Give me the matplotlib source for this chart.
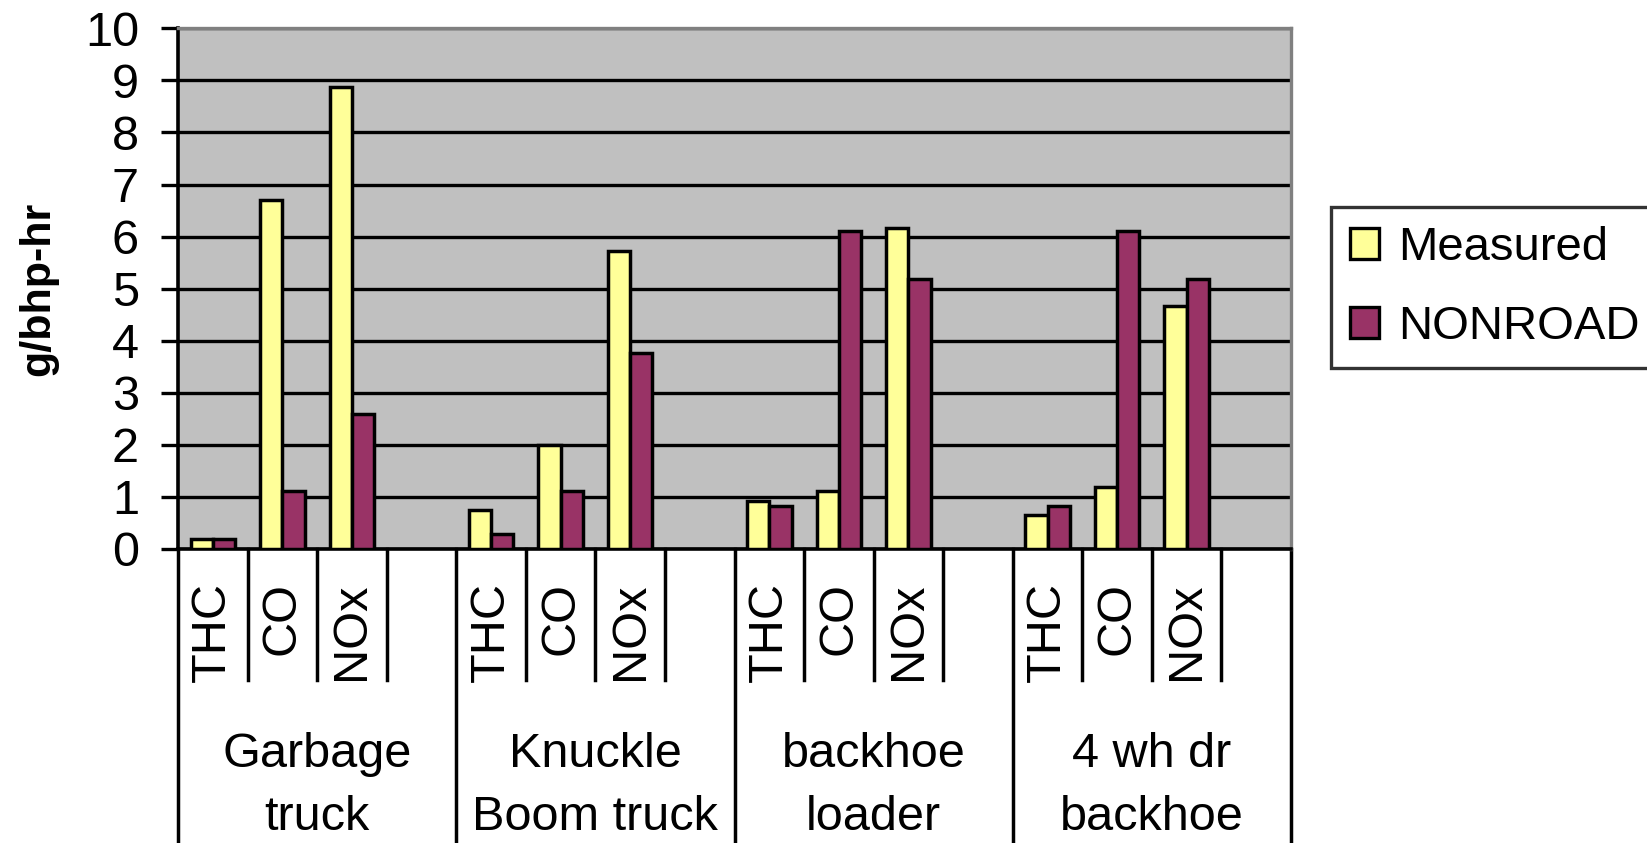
import matplotlib
matplotlib.use("Agg")
import matplotlib.pyplot as plt
import matplotlib.transforms as mtransforms
import numpy as np

plt.rcParams['font.family'] = ['Liberation Sans', 'DejaVu Sans']

groups = ["Garbage\ntruck", "Knuckle\nBoom truck", "backhoe\nloader", "4 wh dr\nbackhoe"]
pollutants = ["THC", "CO", "NOx"]
measured = [0.2, 6.7, 8.87, 0.74, 2.0, 5.72, 0.93, 1.11, 6.17, 0.66, 1.19, 4.66]
nonroad = [0.2, 1.11, 2.6, 0.29, 1.11, 3.76, 0.82, 6.1, 5.19, 0.82, 6.1, 5.19]
yticks = list(range(0, 11))

# each group has 3 pollutant slots plus one empty slot
slots = len(pollutants) + 1
xpos = [g * slots + p for g in range(len(groups)) for p in range(len(pollutants))]

fig = plt.figure(figsize=(16.47, 8.43), dpi=100)
ax = fig.add_axes([178 / 1647, 1 - 549 / 843, (1291 - 178) / 1647, (549 - 28.3) / 843])
ax.set_facecolor('#C0C0C0')

w = 0.32
x = np.array(xpos)
ax.bar(x - w / 2, measured, w, color='#FFFF99', edgecolor='black', linewidth=2.5, label='Measured', zorder=3)
ax.bar(x + w / 2, nonroad, w, color='#993366', edgecolor='black', linewidth=2.5, label='NONROAD', zorder=3)

ax.set_xlim(-0.5, len(groups) * slots - 0.5)
ax.set_ylim(0, 10)
ax.set_yticks(yticks)
ax.set_yticklabels([str(t) for t in yticks], fontsize=35)
ax.tick_params(axis='y', length=12, width=2.4, direction='out', pad=16, color='black')
ax.set_xticks([])
ax.yaxis.grid(True, color='black', linewidth=2.4, zorder=1)
ax.set_axisbelow(True)

ax.spines['left'].set_linewidth(2.6)
ax.spines['left'].set_color('black')
ax.spines['bottom'].set_linewidth(2.6)
ax.spines['bottom'].set_color('black')
ax.spines['top'].set_color('#808080')
ax.spines['top'].set_linewidth(2.4)
ax.spines['right'].set_color('#808080')
ax.spines['right'].set_linewidth(2.4)

ax.set_ylabel('g/bhp-hr', fontsize=31, fontweight='bold')
ax.yaxis.set_label_coords((58 - 178) / 1113, 0.5)

# category axis drawn below the plot
trans = mtransforms.blended_transform_factory(ax.transData, ax.transAxes)
short_end = -(680 - 549) / 520.7
for i in range(len(groups) * slots + 1):
    xb = i - 0.5
    y_end = -0.62 if i % slots == 0 else short_end
    ax.plot([xb, xb], [0, y_end], color='black', linewidth=2.5, transform=trans, clip_on=False)

label_top = -(582 - 549) / 520.7
for k, xi in enumerate(xpos):
    ax.text(xi, label_top, pollutants[k % len(pollutants)], rotation=90, ha='center', va='top',
            fontsize=35, transform=trans)

group_mid = -(786 - 549) / 520.7
for g, name in enumerate(groups):
    ax.text(g * slots + (slots - 1) / 2, group_mid, name, ha='center', va='center',
            fontsize=35, linespacing=1.5, transform=trans, multialignment='center')

leg = fig.legend(loc='upper left', bbox_to_anchor=(1331 / 1647, 1 - 207 / 843), fontsize=34,
                 frameon=True, fancybox=False, edgecolor='black', handlelength=0.62,
                 handleheight=0.62, handletextpad=0.4, labelspacing=0.75, borderpad=0.4,
                 borderaxespad=0)
leg.get_frame().set_linewidth(2.4)
for h in leg.legend_handles:
    h.set_linewidth(2.4)

plt.savefig('out.png', dpi=100)
